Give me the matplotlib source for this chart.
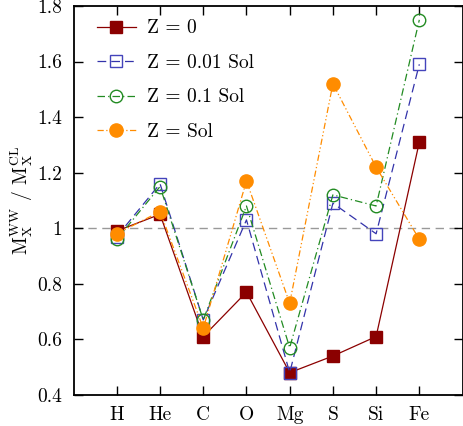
import numpy as np
import matplotlib
matplotlib.use("Agg")
import matplotlib.pyplot as plt

# Computer Modern look, like the LaTeX original
plt.rcParams['font.family'] = 'serif'
plt.rcParams['font.serif'] = ['cmr10', 'DejaVu Serif']
plt.rcParams['mathtext.fontset'] = 'cm'
plt.rcParams['axes.unicode_minus'] = False

# element labels along the x axis
elements = ["H", "He", "C", "O", "Mg", "S", "Si", "Fe"]

# mass ratios M_WW / M_CL per metallicity
z_0 = [0.99, 1.05, 0.61, 0.77, 0.48, 0.54, 0.61, 1.31]
z_001 = [0.97, 1.16, 0.67, 1.03, 0.48, 1.09, 0.98, 1.59]
z_01 = [0.96, 1.15, 0.67, 1.08, 0.57, 1.12, 1.08, 1.75]
z_sol = [0.98, 1.06, 0.64, 1.17, 0.73, 1.52, 1.22, 0.96]

y_ticks = [0.4, 0.6, 0.8, 1.0, 1.2, 1.4, 1.6, 1.8]
y_tick_labels = ["0.4", "0.6", "0.8", "1", "1.2", "1.4", "1.6", "1.8"]

x = np.arange(1, len(elements) + 1)

fig = plt.figure(figsize=(4.63, 4.26), dpi=100)
ax = fig.add_axes([0.159, 0.073, 0.84, 0.913])

# reference line at ratio 1
ax.axhline(1.0, color="#999999", linestyle=(0, (6, 4)), linewidth=1.0, zorder=1)

ax.plot(x, z_0, color="#8b0000", linestyle="-", linewidth=0.9,
        marker="s", markersize=8.5, markerfacecolor="#8b0000",
        markeredgecolor="#8b0000", label="Z = 0", zorder=3)
ax.plot(x, z_001, color="#3333aa", linestyle=(0, (7, 4)), linewidth=0.9,
        marker="s", markersize=9, markerfacecolor="none",
        markeredgecolor="#4444bb", label="Z = 0.01 Sol", zorder=3)
ax.plot(x, z_01, color="#228b22", linestyle=(0, (6, 2.5, 1, 2.5)), linewidth=0.9,
        marker="o", markersize=9, markerfacecolor="none",
        markeredgecolor="#228b22", label="Z = 0.1 Sol", zorder=3)
ax.plot(x, z_sol, color="#ff8c00", linestyle=(0, (5, 2, 1, 2, 1, 2)), linewidth=0.9,
        marker="o", markersize=9.5, markerfacecolor="#ff8c00",
        markeredgecolor="#ff8c00", label="Z = Sol", zorder=4)

ax.set_xlim(0, 9)
ax.set_ylim(0.4, 1.8)
ax.set_xticks(x)
ax.set_xticklabels(elements)
ax.set_yticks(y_ticks)
ax.set_yticklabels(y_tick_labels)
ax.tick_params(direction="in", top=True, right=True, length=6.5, width=1.0,
               labelsize=14, pad=8)
for s in ax.spines.values():
    s.set_linewidth(1.3)

ax.set_ylabel(r"$\mathrm{M_X^{WW}}$ / $\mathrm{M_X^{CL}}$", fontsize=14, labelpad=2)

ax.legend(loc="upper left", bbox_to_anchor=(0.025, 1.0), frameon=False,
          fontsize=14, handlelength=2.0, labelspacing=0.85, borderaxespad=0.3,
          borderpad=0.4, handletextpad=0.55)

fig.savefig("out.png", dpi=100)
